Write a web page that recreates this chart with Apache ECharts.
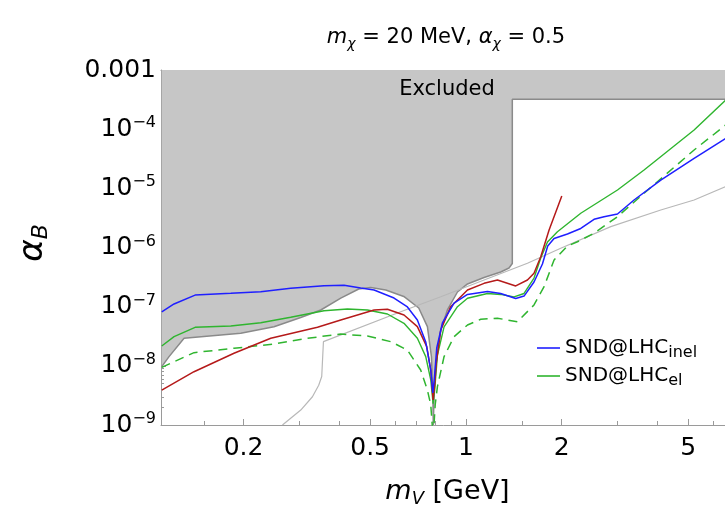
<!DOCTYPE html>
<html><head><meta charset="utf-8">
<script src="https://cdn.jsdelivr.net/npm/echarts@6.0.0/dist/echarts.min.js"></script>
<style>html,body{margin:0;padding:0;background:#fff}#c{width:725px;height:513px}</style>
</head><body><div id="c"></div>
<script>
// ---- axis ranges & ticks ----
const xMin = 0.11, xMax = 7, yMin = 1e-9, yMax = 1e-3;
const xMajorTicks = [0.2, 0.5, 1, 2, 5];
const xMinorTicks = [0.15, 0.3, 0.4, 0.6, 0.7, 0.8, 0.9, 1.5, 3, 4, 6];
const yMajorTicks = [1e-9, 1e-8, 1e-7, 1e-6, 1e-5, 1e-4, 1e-3];
const yMinorMultipliers = [2, 3, 4, 5, 6, 7, 8, 9];

// ---- data: [m_V (GeV), alpha_B] ----
const excludedBoundary = [
  [0.1106,9.7e-9],[0.1166,1.43e-8],[0.130,2.92e-8],[0.196,3.55e-8],[0.2493,4.59e-8],
  [0.3026,6.56e-8],[0.3499,8.79e-8],[0.4043,1.39e-7],[0.4604,1.99e-7],[0.502,2.11e-7],
  [0.560,1.91e-7],[0.638,1.49e-7],[0.711,9.5e-8],[0.757,4.59e-8],[0.7794,1.43e-8],
  [0.787,3.9e-9],[0.790,1.0e-9],[0.7954,3.9e-9],[0.804,1.03e-8],[0.834,4.04e-8],
  [0.875,8.79e-8],[0.941,1.77e-7],[1.012,2.42e-7],[1.141,3.11e-7],[1.287,3.86e-7],
  [1.367,4.51e-7],[1.4,5.37e-7],[1.4,3.2e-4],[7,3.2e-4]
];
const blueInel = [
  [0.1106,8.2e-8],[0.1209,1.11e-7],[0.1408,1.57e-7],[0.1823,1.68e-7],[0.2265,1.79e-7],
  [0.2813,2.05e-7],[0.358,2.26e-7],[0.414,2.30e-7],[0.467,2.07e-7],[0.5146,1.91e-7],
  [0.5945,1.40e-7],[0.655,9.9e-8],[0.704,5.96e-8],[0.748,2.53e-8],[0.7756,8.5e-9],
  [0.787,3.5e-9],[0.7954,5.8e-9],[0.810,2.0e-8],[0.844,5.3e-8],[0.918,1.15e-7],
  [1.012,1.61e-7],[1.169,1.81e-7],[1.287,1.67e-7],[1.435,1.37e-7],[1.524,1.51e-7],
  [1.638,2.61e-7],[1.741,5.26e-7],[1.809,1.06e-6],[1.894,1.42e-6],[2.087,1.69e-6],
  [2.298,2.10e-6],[2.530,3.0e-6],[2.720,3.32e-6],[2.998,3.68e-6],[3.380,6.35e-6],
  [4.102,1.38e-5],[5.221,3.22e-5],[6.567,7.0e-5],[7.0,8.7e-5]
];
const greenEl = [
  [0.1106,2.16e-8],[0.1209,3.11e-8],[0.1408,4.48e-8],[0.1823,4.71e-8],[0.2265,5.36e-8],
  [0.2813,6.61e-8],[0.358,8.55e-8],[0.4243,9.14e-8],[0.4904,8.79e-8],[0.5668,7.52e-8],
  [0.639,5.24e-8],[0.704,2.92e-8],[0.748,1.43e-8],[0.7756,5.8e-9],[0.789,2.3e-9],
  [0.798,3.9e-9],[0.814,1.52e-8],[0.854,4.54e-8],[0.941,1.0e-7],[1.012,1.39e-7],
  [1.169,1.67e-7],[1.287,1.61e-7],[1.418,1.46e-7],[1.524,1.67e-7],[1.638,3.05e-7],
  [1.720,6.65e-7],[1.806,1.24e-6],[1.941,1.85e-6],[2.298,3.79e-6],[2.998,9.37e-6],
  [3.634,2.04e-5],[5.221,9.68e-5],[6.567,3.11e-4]
];
const redCurve = [
  [0.1106,3.9e-9],[0.1397,7.96e-9],[0.1866,1.63e-8],[0.2435,2.92e-8],[0.3415,4.48e-8],
  [0.4043,5.96e-8],[0.5146,8.79e-8],[0.5668,9.03e-8],[0.639,7.23e-8],[0.704,4.59e-8],
  [0.7535,2.11e-8],[0.7756,8.5e-9],[0.789,2.65e-9],[0.798,4.74e-9],[0.807,1.1e-8],
  [0.834,4.04e-8],[0.896,1.0e-7],[1.012,1.91e-7],[1.141,2.48e-7],[1.257,2.82e-7],
  [1.435,2.24e-7],[1.562,2.82e-7],[1.638,3.67e-7],[1.720,7.0e-7],[1.827,1.98e-6],
  [2.003,7.43e-6]
];
const dashedEl = [
  [0.1106,9.4e-9],[0.1397,1.67e-8],[0.1866,1.98e-8],[0.2493,2.34e-8],[0.3176,2.92e-8],
  [0.4043,3.45e-8],[0.4904,3.19e-8],[0.5805,2.56e-8],[0.655,1.85e-8],[0.721,8.5e-9],
  [0.757,3.9e-9],[0.7756,2.2e-9],[0.784,1.0e-9],[0.789,4.6e-10],[0.794,1.0e-9],
  [0.801,2.2e-9],[0.814,4.45e-9],[0.854,1.43e-8],[0.918,3.11e-8],[1.012,4.9e-8],
  [1.114,6.12e-8],[1.257,6.37e-8],[1.453,5.57e-8],[1.638,1.07e-7],[1.762,2.18e-7],
  [1.894,6.15e-7],[2.087,1.06e-6],[2.244,1.25e-6],[2.530,1.74e-6],[2.998,3.32e-6],
  [3.634,8.24e-6],[5.221,4.45e-5],[6.567,1.18e-4]
];
const grayBound = [
  [0.265,1.0e-9],[0.3026,1.79e-9],[0.3293,3.0e-9],[0.3446,4.7e-9],[0.3522,6.6e-9],
  [0.3566,2.56e-8],[0.624,8.2e-8],[0.834,1.47e-7],[1.562,5.41e-7],[1.988,9.7e-7],
  [2.856,2.25e-6],[4.102,4.31e-6],[5.221,6.35e-6],[6.567,1.07e-5]
];

const FONT = 'DejaVu Sans';
const FRAME = '#9a9a9a';
const yMinorTicks = yMajorTicks.slice(0, -1).flatMap(d => yMinorMultipliers.map(m => +(m * d).toPrecision(3)));

function xAxisDef(pos, ticks, len, withLabels, withLine) {
  return {
    type: 'log', logBase: 10, min: xMin, max: xMax, position: pos,
    axisLine: { show: withLine, lineStyle: { color: FRAME, width: 1 } },
    axisTick: { show: true, inside: true, length: len, customValues: ticks, lineStyle: { color: FRAME, width: 1 } },
    axisLabel: withLabels ? {
      show: true, customValues: ticks, margin: 9, color: '#000', fontFamily: FONT, fontSize: 25, lineHeight: 28,
      formatter: v => String(+v.toPrecision(3))
    } : { show: false },
    splitLine: { show: false }, minorTick: { show: false }, minorSplitLine: { show: false }
  };
}
function yAxisDef(ticks, len, withLabels, withLine) {
  return {
    type: 'log', logBase: 10, min: yMin, max: yMax, position: 'left',
    axisLine: { show: withLine, lineStyle: { color: FRAME, width: 1 } },
    axisTick: { show: true, inside: true, length: len, customValues: ticks, lineStyle: { color: FRAME, width: 1 } },
    axisLabel: withLabels ? {
      show: true, customValues: ticks, margin: 5, color: '#000', fontFamily: FONT, fontSize: 25,
      formatter: v => {
        const e = Math.round(Math.log10(v));
        if (e === -3) return '{b|0.001}';
        return '{b|10}{s|\u2212' + (-e) + '}';
      },
      rich: {
        b: { fontFamily: FONT, fontSize: 25, lineHeight: 28, color: '#000' },
        s: { fontFamily: FONT, fontSize: 16, lineHeight: 16, verticalAlign: 'top', color: '#000' }
      }
    } : { show: false },
    splitLine: { show: false }, minorTick: { show: false }, minorSplitLine: { show: false }
  };
}

const chart = echarts.init(document.getElementById('c'), null, { renderer: 'canvas' });
const option = {
  animation: false,
  backgroundColor: '#fff',
  textStyle: { fontFamily: FONT },
  grid: { left: 161, top: 70, width: 573.6, height: 355, containLabel: false, outerBoundsMode: 'none' },
  xAxis: [
    xAxisDef('bottom', xMajorTicks, 6, true, true),
    xAxisDef('bottom', xMinorTicks, 4, false, false),
    xAxisDef('top', xMajorTicks, 6, false, true),
    xAxisDef('top', xMinorTicks, 4, false, false)
  ],
  yAxis: [
    yAxisDef(yMajorTicks, 5, true, true),
    yAxisDef(yMinorTicks, 3, false, false)
  ],
  legend: {
    data: ['SND@LHC_inel', 'SND@LHC_el'],
    orient: 'vertical', left: 537, top: 338, padding: 0, itemGap: 5,
    itemWidth: 23, itemHeight: 1.6, icon: 'rect', selectedMode: false,
    formatter: n => n === 'SND@LHC_inel' ? '{a|SND@LHC}{s|inel}' : '{a|SND@LHC}{s|el}',
    textStyle: {
      color: '#000', fontFamily: FONT, fontSize: 20,
      rich: {
        a: { fontFamily: FONT, fontSize: 20, lineHeight: 26, color: '#000' },
        s: { fontFamily: FONT, fontSize: 16, lineHeight: 15, verticalAlign: 'bottom', color: '#000' }
      }
    }
  },
  graphic: [
    { type: 'text', x: 446, y: 38, style: {
        text: '{i|m}{s|\u03c7}{t| = 20 MeV, }{i|\u03b1}{s|\u03c7}{t| = 0.5}', align: 'center', verticalAlign: 'middle',
        rich: {
          i: { fontFamily: FONT, fontSize: 21, fontStyle: 'italic', lineHeight: 26, fill: '#000' },
          t: { fontFamily: FONT, fontSize: 21, lineHeight: 26, fill: '#000' },
          s: { fontFamily: FONT, fontSize: 14, fontStyle: 'italic', lineHeight: 14, verticalAlign: 'bottom', fill: '#000' }
        } } },
    { type: 'text', x: 447, y: 90, z: 100, style: {
        text: 'Excluded', align: 'center', verticalAlign: 'middle', fontFamily: FONT, fontSize: 21, fill: '#000' } },
    { type: 'text', x: 447.5, y: 492, style: {
        text: '{i|m}{s|V}{t| [GeV]}', align: 'center', verticalAlign: 'middle',
        rich: {
          i: { fontFamily: FONT, fontSize: 27, fontStyle: 'italic', lineHeight: 32, fill: '#000' },
          t: { fontFamily: FONT, fontSize: 27, lineHeight: 32, fill: '#000' },
          s: { fontFamily: FONT, fontSize: 18, fontStyle: 'italic', lineHeight: 18, verticalAlign: 'bottom', fill: '#000' }
        } } },
    { type: 'text', x: 33, y: 243, rotation: Math.PI / 2, style: {
        text: '{i|\u03b1}{s|B}', align: 'center', verticalAlign: 'middle',
        rich: {
          i: { fontFamily: FONT, fontSize: 34, fontStyle: 'italic', lineHeight: 38, fill: '#000' },
          s: { fontFamily: FONT, fontSize: 22, fontStyle: 'italic', lineHeight: 22, verticalAlign: 'bottom', fill: '#000' }
        } } }
  ],
  series: [
    { name: 'Excluded', type: 'line', data: excludedBoundary, showSymbol: false, symbol: 'none', silent: true, z: 1,
      lineStyle: { color: '#8a8a8a', width: 1.5 },
      areaStyle: { origin: 'end', color: '#c6c6c6', opacity: 1 } },
    { name: 'gray', type: 'line', data: grayBound, symbol: 'none', silent: true, z: 2,
      lineStyle: { color: '#b8b8b8', width: 1.2 } },
    { name: 'dashed', type: 'line', data: dashedEl, symbol: 'none', silent: true, z: 3,
      lineStyle: { color: '#2fb52f', width: 1.5, type: [9, 6] } },
    { name: 'SND@LHC_el', type: 'line', data: greenEl, symbol: 'none', silent: true, z: 4,
      color: '#2fb52f', lineStyle: { color: '#2fb52f', width: 1.4 } },
    { name: 'red', type: 'line', data: redCurve, symbol: 'none', silent: true, z: 5,
      lineStyle: { color: '#b51a1a', width: 1.5 } },
    { name: 'SND@LHC_inel', type: 'line', data: blueInel, symbol: 'none', silent: true, z: 6,
      color: '#1f1fff', lineStyle: { color: '#1f1fff', width: 1.5 } }
  ]
};
chart.setOption(option);
</script></body></html>
